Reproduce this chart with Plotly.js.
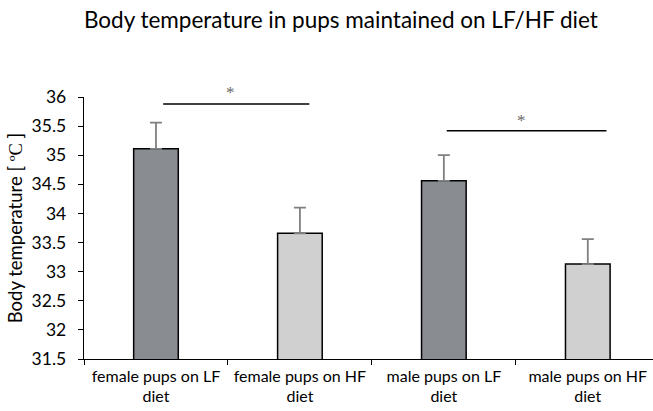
<!DOCTYPE html>
<html>
<head>
<meta charset="utf-8">
<script src="https://cdn.plot.ly/plotly-3.0.1.min.js"></script>
<style>html,body{margin:0;padding:0;background:#fff;}#chart{width:653px;height:411px;}</style>
</head>
<body>
<div id="chart"></div>
<script>
const categories = ["female pups on LF<br>diet", "female pups on HF<br>diet", "male pups on LF<br>diet", "male pups on HF<br>diet"];
const temperature = [35.11, 33.66, 34.56, 33.13];
const errorPlus = [0.45, 0.44, 0.44, 0.43];
const barColors = ["#898c90", "#d0d0d0", "#898c90", "#d0d0d0"];
const sigPairs = [
  {x0: 0.05, x1: 1.065, y: 35.88, starX: 0.52, starY: 36.07},
  {x0: 2.02, x1: 3.13, y: 35.42, starX: 2.54, starY: 35.6}
];
const yTicks = [31.5, 32, 32.5, 33, 33.5, 34, 34.5, 35, 35.5, 36];
const yRange = [31.5, 36];

const fontFam = "Lato, 'Open Sans', sans-serif";

const trace = {
  type: "bar",
  x: categories,
  y: temperature,
  width: 0.31,
  marker: {color: barColors, line: {color: "#000", width: 1.5}},
  error_y: {type: "data", symmetric: false, array: errorPlus, arrayminus: [0,0,0,0], color: "#808080", thickness: 1.8, width: 6},
  hoverinfo: "none"
};

const toPaper = v => (v - yRange[0]) / (yRange[1] - yRange[0]);
const shapes = sigPairs.map(p => ({type: "line", xref: "x", yref: "y", x0: p.x0, x1: p.x1, y0: p.y, y1: p.y, line: {color: "#000", width: 1.5}}));
const annotations = sigPairs.map(p => ({xref: "x", yref: "paper", x: p.starX, y: toPaper(p.starY), yanchor: "middle", text: "*", showarrow: false, font: {family: "'Liberation Serif', serif", size: 17, color: "#6a6a6a"}}));

const layout = {
  width: 653, height: 411,
  margin: {l: 84, r: 0, t: 97, b: 52},
  paper_bgcolor: "#fff", plot_bgcolor: "#fff",
  showlegend: false,
  title: {text: "Body temperature in pups maintained on LF/HF diet", font: {family: fontFam, size: 22.5, color: "#000"}, x: 0.522, xanchor: "center", y: 0.95, yanchor: "middle"},
  xaxis: {
    type: "category",
    range: [-0.5, 3.453],
    tickson: "boundaries",
    ticks: "outside", ticklen: 5, tickcolor: "#000", tickwidth: 1,
    showline: true, linecolor: "#000", linewidth: 1.3,
    showgrid: false, zeroline: false,
    ticklabelstandoff: 2,
    tickfont: {family: fontFam, size: 16, color: "#000"},
    fixedrange: true
  },
  yaxis: {
    range: yRange,
    tickvals: yTicks,
    ticktext: yTicks.map(String),
    ticks: "outside", ticklen: 5, tickcolor: "#000", tickwidth: 1,
    showline: true, linecolor: "#000", linewidth: 1.3,
    showgrid: false, zeroline: false,
    ticklabelstandoff: 8,
    tickfont: {family: fontFam, size: 17.5, color: "#000"},
    title: {text: "Body temperature [ <span style=\"font-family:'Liberation Serif',serif\">ºC</span> ]", font: {family: fontFam, size: 18.5, color: "#000"}, standoff: 4},
    fixedrange: true
  },
  shapes: shapes,
  annotations: annotations
};

Plotly.newPlot("chart", [trace], layout, {displayModeBar: false, staticPlot: true});
</script>
</body>
</html>
